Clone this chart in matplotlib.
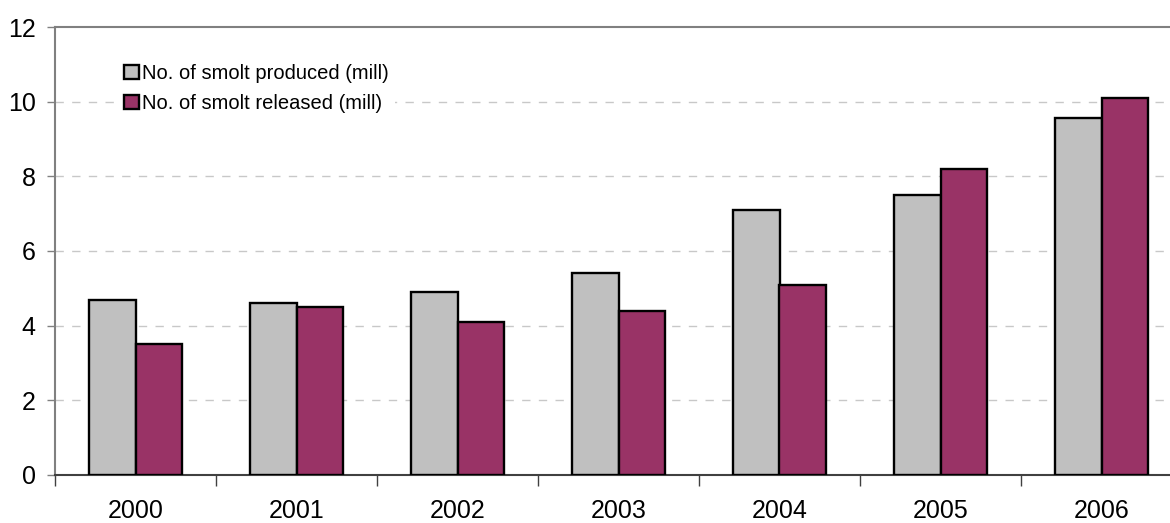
import matplotlib
matplotlib.use("Agg")
import matplotlib.pyplot as plt
import numpy as np

years = ["2000", "2001", "2002", "2003", "2004", "2005", "2006"]
produced = [4.7, 4.6, 4.9, 5.4, 7.1, 7.5, 9.55]
released = [3.5, 4.5, 4.1, 4.4, 5.1, 8.2, 10.1]
series_labels = ["No. of smolt produced (mill)", "No. of smolt released (mill)"]

plt.rcParams["font.family"] = ["Liberation Sans", "DejaVu Sans"]

W, H = 1170, 523
fig = plt.figure(figsize=(W / 100, H / 100), dpi=100)
left, right, bottom, top = 55, 1182, 475, 27
ax = fig.add_axes([left / W, (H - bottom) / H, (right - left) / W, (bottom - top) / H])

x = np.arange(len(years))
bw = 0.29
ax.bar(x - bw / 2, produced, width=bw, color="#C0C0C0", edgecolor="black",
       linewidth=1.7, label=series_labels[0], zorder=3)
ax.bar(x + bw / 2, released, width=bw, color="#993366", edgecolor="black",
       linewidth=1.7, label=series_labels[1], zorder=3)

ax.set_xlim(-0.5, len(years) - 0.5)
ax.set_ylim(0, 12)
ax.set_yticks(range(0, 13, 2))
ax.set_xticks(x)
ax.set_xticklabels(years)
ax.set_xticks(np.arange(-0.5, len(years), 1.0), minor=True)
ax.tick_params(axis="x", which="major", length=0, pad=17, labelsize=18)
ax.tick_params(axis="x", which="minor", length=8, width=1.0, color="#404040", direction="out")
ax.tick_params(axis="y", length=6, width=1.0, color="#808080", pad=8, labelsize=18)

for y in range(2, 12, 2):
    ax.axhline(y, color="#C8C8C8", linestyle=(0, (6, 6)), linewidth=1.0, zorder=1)

for s in ("left", "top", "right"):
    ax.spines[s].set_color("#808080")
    ax.spines[s].set_linewidth(1.5)
ax.spines["bottom"].set_color("#404040")
ax.spines["bottom"].set_linewidth(1.5)

leg = ax.legend(loc="upper left", bbox_to_anchor=(118 / W, (H - 58) / H),
                bbox_transform=fig.transFigure, frameon=True, fancybox=False,
                facecolor="white", edgecolor="none", framealpha=1.0,
                fontsize=14.5, handlelength=0.75, handleheight=0.75,
                handletextpad=0.15, labelspacing=0.55, borderpad=0.3,
                borderaxespad=0)
leg.set_zorder(5)
for h in leg.legend_handles:
    h.set_linewidth(1.7)

fig.savefig("out.png", dpi=100)
